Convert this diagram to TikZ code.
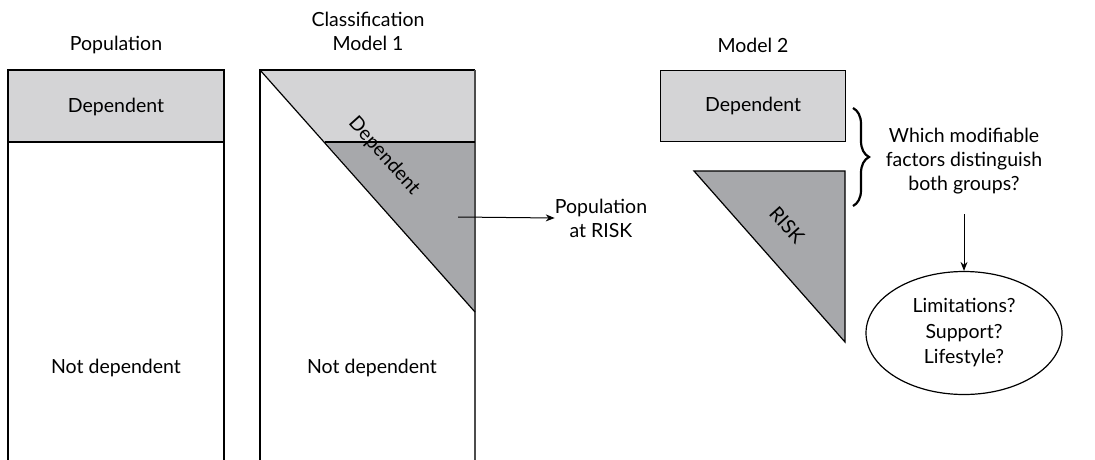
\documentclass[tikz,border=0pt]{standalone}
\usepackage{fontspec}
\setmainfont{Lato}
\usetikzlibrary{arrows.meta,shapes.geometric,decorations.pathreplacing}
\definecolor{lightg}{HTML}{D4D4D6}
\definecolor{darkg}{HTML}{A7A8AB}
\begin{document}
\begin{tikzpicture}[x=1pt,y=-1pt,
  lbl/.style={font=\fontsize{19.5}{24}\selectfont, align=center, inner sep=0pt},
  edge/.style={line width=1.2pt},
  arr/.style={line width=1pt,-{Stealth[length=9pt,width=7pt]}}]
\useasboundingbox (0,0) rectangle (1095,460);
% Population column
\fill[lightg] (8,70) rectangle (224,142);
\draw[edge] (8,460) -- (8,70) -- (224,70) -- (224,460);
\draw[edge] (8,142) -- (224,142);
\node[lbl] (poptitle) at (116,45) {Population};
\node[lbl] (popdep) at (116,107) {Dependent};
\node[lbl] (popnot) at (116,368) {Not dependent};
% Model 1 column
\fill[lightg] (260,70) -- (475,70) -- (475,142) -- (325,142) -- cycle;
\fill[darkg] (325,142) -- (475,142) -- (475,312) -- cycle;
\draw[edge] (260,460) -- (260,70) -- (475,70);
\draw[edge, black!70] (475,70) -- (475,460);
\draw[edge] (325,142) -- (475,142);
\draw[edge] (260,70) -- (475,312);
\node[lbl] (m1title) at (368,31) {Classification\\Model 1};
\node[lbl, rotate=-48] (m1dep) at (384,156) {Dependent};
\node[lbl] (m1not) at (372,368) {Not dependent};
\coordinate (m1arr) at (458,217);
% Population at risk
\node[lbl] (atrisk) at (601,218) {Population\\at RISK};
\draw[arr] (m1arr) -- (atrisk.west);
% Model 2
\node[lbl] (m2title) at (753,45) {Model 2};
\node[draw, edge, fill=lightg, minimum width=185pt, minimum height=71pt, anchor=north west,
  font=\fontsize{19.5}{24}\selectfont, inner sep=0pt] (m2dep) at (660,70) {Dependent};
\filldraw[edge, fill=darkg] (694,171) -- (845,171) -- (845,342) -- cycle;
\node[lbl, rotate=-48] (risk) at (787,225) {RISK};
% brace and question
\draw[line width=2.2pt, decorate, decoration={brace, amplitude=16pt}] (853,108) -- (853,206);
\node[lbl] (q) at (964,161) {Which modifiable\\factors distinguish\\both groups?};
\node[draw, edge, ellipse, minimum width=196pt, minimum height=123pt, inner sep=0pt,
  font=\fontsize{19.5}{25.5}\selectfont, align=center] (ell) at (964,333) {Limitations?\\Support?\\Lifestyle?};
\draw[arr] ([yshift=-20pt]q.south -| ell.north) -- (ell.north);
\end{tikzpicture}
\end{document}
